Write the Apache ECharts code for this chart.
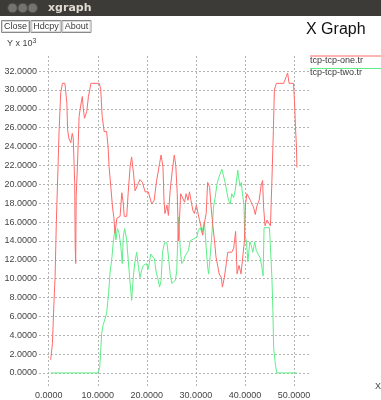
<!DOCTYPE html>
<html><head><meta charset="utf-8">
<script src="https://cdn.jsdelivr.net/npm/echarts@6/dist/echarts.min.js"></script>
<style>html,body{margin:0;padding:0;background:#fff;overflow:hidden}#c{width:381px;height:400px}</style>
</head><body><div id="c"></div>
<script>
// ---- data ----
const seriesNames = ['tcp-tcp-one.tr', 'tcp-tcp-two.tr'];
const oneX = [0.4,0.75,1.1,1.3,1.55,1.9,2.1,2.45,2.8,3.3,3.7,3.85,4.1,4.5,4.8,5.0,5.3,5.4,5.5,5.6,5.85,6.2,6.5,6.85,7.05,7.3,7.75,8.1,8.6,10.3,10.6,10.9,11.3,11.8,12.1,12.3,12.65,13.0,13.3,13.5,13.9,14.55,14.9,15.2,15.4,15.9,16.2,16.6,16.9,17.3,17.6,18.1,18.6,19.1,19.65,20.3,21.0,21.5,22.0,22.6,22.9,23.3,23.5,23.7,24.1,24.4,24.75,25.2,25.6,25.9,26.2,26.45,26.9,27.3,27.7,28.0,28.4,28.7,29.0,29.4,29.7,30.1,30.4,30.7,31.1,31.4,31.7,32.1,32.4,32.8,33.1,33.5,33.8,34.1,34.5,34.75,35.2,35.4,35.8,36.2,36.5,37.3,37.7,38.1,38.4,38.8,39.2,39.6,39.9,40.1,40.4,40.7,41.1,41.4,41.75,42.1,42.45,42.9,43.3,43.6,43.8,44.1,44.5,44.8,45.2,45.5,45.8,46.0,46.4,47.9,48.4,48.7,49.0,49.9,50.1,50.3,50.5,50.6];
const oneY = [1.4,3.1,7.8,10.2,15.9,21.9,25.4,29.7,30.7,30.7,28.6,25.8,24.9,24.4,25.4,24.9,20.1,13.4,11.6,18.7,21.9,27.2,28.3,29.3,28.0,27.0,27.7,29.3,30.7,30.7,30.1,27.2,25.6,25.6,24.0,21.9,19.8,17.6,16.4,14.8,16.4,16.6,19.1,18.0,16.6,16.6,19.1,21.9,22.9,21.1,19.3,19.9,20.5,20.2,19.2,19.2,17.9,18.3,20.4,22.2,23.1,21.8,18.3,16.9,17.8,16.7,19.3,21.5,23.1,22.0,19.0,14.0,19.0,19.2,18.1,19.0,18.3,19.2,18.3,17.2,16.9,17.8,17.0,16.3,15.4,14.6,15.8,16.9,20.2,19.7,17.6,15.4,14.0,12.3,11.2,10.5,10.1,9.1,10.1,11.6,12.8,12.8,13.2,15.0,10.5,11.4,10.5,10.6,14.0,17.8,19.0,18.8,18.3,17.9,17.6,16.8,17.7,18.3,19.9,20.4,17.6,15.6,16.2,16.0,15.6,20.4,25.7,30.0,30.7,30.7,31.4,31.8,30.7,30.7,28.9,26.1,24.0,21.8];
const twoX = [0.4,10.05,10.4,10.6,10.8,11.1,11.5,11.8,12.2,12.5,12.9,13.2,13.5,13.7,14.0,14.35,14.7,15.0,15.2,15.5,15.9,16.2,16.6,16.9,17.3,17.6,17.95,18.3,18.6,19.0,19.3,19.9,20.3,20.8,21.2,21.55,21.9,22.2,22.6,22.9,23.2,23.6,24.1,24.4,24.75,25.1,25.5,25.8,26.1,26.45,26.8,27.1,27.5,27.8,28.2,28.5,28.8,29.2,29.5,30.2,30.5,30.9,31.2,31.75,32.1,32.4,32.6,32.9,33.3,33.6,33.9,34.3,34.6,35.0,35.3,35.6,36.0,36.3,36.65,37.0,37.3,37.7,38.0,38.55,38.7,39.0,39.25,39.5,39.8,39.95,40.3,40.6,41.0,41.3,41.6,42.0,42.3,42.7,43.1,43.45,43.7,43.9,45.0,45.5,45.7,45.85,46.2,46.5,50.6];
const twoY = [0,0,0.6,2.4,4.2,5.1,5.2,6.3,8.4,10.6,12.3,14.1,15.2,14.1,15.3,14.8,13.4,11.6,14.5,15.3,14.1,12.0,9.5,7.7,10.5,11.9,12.8,11.2,10.1,11.0,11.4,11.6,11.0,12.6,12.8,12.1,10.7,10.1,9.1,9.8,12.8,13.8,13.8,12.4,10.5,9.5,9.3,9.8,10.8,16.5,13.3,11.6,11.9,12.4,12.3,13.0,14.0,14.0,14.2,14.4,15.1,15.4,14.9,16.0,13.3,11.2,10.5,12.3,15.0,17.6,18.5,20.0,20.6,21.2,21.6,21.7,20.1,19.2,18.3,17.9,19.0,18.6,19.3,21.5,20.8,19.8,20.2,19.0,17.8,14.7,14.0,11.8,13.9,13.5,12.8,13.9,13.0,12.8,12.2,11.2,10.3,15.4,15.4,10.1,6.6,2.7,0.9,0.0,0.0];
const yTicks = [0,2,4,6,8,10,12,14,16,18,20,22,24,26,28,30,32];
const xTicks = [0,10,20,30,40,50];
const buttonLabels = ['Close', 'Hdcpy', 'About'];
const windowTitle = 'xgraph';
const chartTitle = 'X Graph';

// ---- chart ----
const colors = ['#ff6a6a', '#5eee88'];
const zip = (xs, ys) => xs.map((x, i) => [x, ys[i]]);
const FONT = 'Liberation Sans, Arial, sans-serif';
const chart = echarts.init(document.getElementById('c'), null, { renderer: 'canvas' });

const gridLine = { show: true, lineStyle: { color: '#b4b4b4', width: 1, type: [2, 2] } };
const graphic = [];
// window title bar
graphic.push({ type: 'rect', shape: { x: 0, y: 0, width: 381, height: 16 }, style: { fill: '#3c3b37' }, silent: true });
[12.5, 22.7, 32.7].forEach((cx) => {
  graphic.push({ type: 'circle', shape: { cx: cx, cy: 8, r: 4.8 }, style: { fill: '#74736f', stroke: '#4d4c48', lineWidth: 1 }, silent: true });
});
graphic.push({ type: 'text', x: 48, y: 8, style: { text: windowTitle, fill: '#dfdbd2', font: 'bold 11px DejaVu Sans, sans-serif', verticalAlign: 'middle', align: 'left' }, silent: true });
// buttons
const btnX = [1.5, 31, 62];
const btnW = [28, 30, 29];
buttonLabels.forEach((b, i) => {
  graphic.push({ type: 'rect', shape: { x: btnX[i], y: 20.5, width: btnW[i], height: 12 }, style: { fill: '#ffffff', stroke: '#8a8a8a', lineWidth: 1 }, silent: true });
  graphic.push({ type: 'rect', shape: { x: btnX[i] + 1, y: 21.5, width: btnW[i] - 2, height: 10 }, style: { fill: 'none', stroke: '#d8d8d8', lineWidth: 1 }, silent: true });
  graphic.push({ type: 'text', x: btnX[i] + btnW[i] / 2, y: 27, style: { text: b, fill: '#3a3a3a', font: '9px ' + FONT, align: 'center', verticalAlign: 'middle' }, silent: true });
});
// chart title
graphic.push({ type: 'text', x: 306, y: 30, style: { text: chartTitle, fill: '#111', font: '16px ' + FONT, align: 'left', verticalAlign: 'middle' }, silent: true });
// y unit label
graphic.push({ type: 'text', x: 7, y: 44, style: { text: 'Y x 10{s|3}', fill: '#444', font: '9px ' + FONT, align: 'left', verticalAlign: 'middle', rich: { s: { fontSize: 7, fill: '#444', fontFamily: FONT, verticalAlign: 'bottom', padding: [0, 0, 6, 0] } } }, silent: true });
// x label
graphic.push({ type: 'text', x: 375, y: 387, style: { text: 'X', fill: '#444', font: '9px ' + FONT, align: 'left', verticalAlign: 'middle' }, silent: true });
// legend
const legendY = [56, 68.5];
const legendTextY = [60.5, 73];
seriesNames.forEach((n, i) => {
  graphic.push({ type: 'line', shape: { x1: 310, y1: legendY[i], x2: 381, y2: legendY[i] }, style: { stroke: colors[i], lineWidth: 1 }, silent: true });
  graphic.push({ type: 'text', x: 310, y: legendTextY[i], style: { text: n, fill: '#3a3a3a', font: '9px ' + FONT, align: 'left', verticalAlign: 'middle' }, silent: true });
});

chart.setOption({
  animation: false,
  backgroundColor: '#ffffff',
  grid: { left: 39, right: 72, top: 56, bottom: 13, containLabel: false },
  xAxis: {
    type: 'value', min: -1.98, max: 53.06,
    axisLine: { show: false }, axisTick: { show: false, customValues: xTicks },
    axisLabel: { customValues: xTicks, formatter: (v) => v.toFixed(4), fontSize: 9, color: '#444', fontFamily: FONT, margin: 4 },
    splitLine: gridLine
  },
  yAxis: {
    type: 'value', min: -1.49, max: 33.6,
    axisLine: { show: false }, axisTick: { show: false, customValues: yTicks },
    axisLabel: { customValues: yTicks, formatter: (v) => v.toFixed(4), fontSize: 9, color: '#444', fontFamily: FONT, margin: 2 },
    splitLine: gridLine
  },
  series: [
    { name: seriesNames[0], type: 'line', data: zip(oneX, oneY), showSymbol: false, lineStyle: { color: colors[0], width: 1 }, itemStyle: { color: colors[0] }, z: 3 },
    { name: seriesNames[1], type: 'line', data: zip(twoX, twoY), showSymbol: false, lineStyle: { color: colors[1], width: 1 }, itemStyle: { color: colors[1] }, z: 2 }
  ],
  graphic: graphic
});
</script>
</body></html>
